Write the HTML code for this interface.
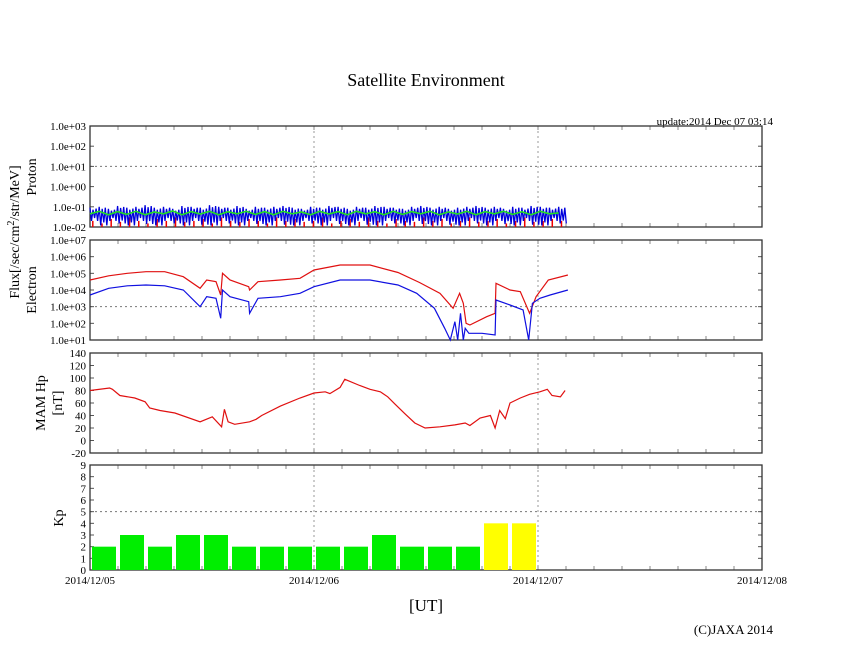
<!DOCTYPE html>
<html><head><meta charset="utf-8"><style>
body{margin:0;background:#fff}
svg text{font-family:"Liberation Serif",serif;fill:#000}
</style></head><body>
<svg id="c" width="846" height="655" viewBox="0 0 846 655"></svg>
<script>
// ---- data ----
const xTickLabels=["2014/12/05","2014/12/06","2014/12/07","2014/12/08"];
const protonTicks=["1.0e-02","1.0e-01","1.0e+00","1.0e+01","1.0e+02","1.0e+03"];
const electronTicks=["1.0e+01","1.0e+02","1.0e+03","1.0e+04","1.0e+05","1.0e+06","1.0e+07"];
const mamTicks=[-20,0,20,40,60,80,100,120,140];
const kpTicks=[0,1,2,3,4,5,6,7,8,9];
// hours since 2014/12/05 00:00 UT ; log10 flux
const elecRedT=[0,2,4,6,8,10,11.8,12.5,13.5,14.0,14.2,15,17,17.1,18,20.4,22.5,24,26.8,30,33,35.3,37.5,38.9,39.6,40.0,40.3,40.7,42.5,43.4,43.5,45,46.1,47.1,47.8,49.1,51.2];
const elecRedV=[4.6,4.85,5.0,5.1,5.1,4.8,4.1,4.6,4.5,3.7,5.0,4.6,4.2,4.0,4.5,4.6,4.7,5.2,5.5,5.5,5.05,4.45,3.8,2.9,3.8,3.2,2.0,1.9,2.4,2.6,4.4,4.0,3.9,2.6,3.6,4.6,4.9];
const elecBlueT=[0,2,4,6,8,10,11.8,12.5,13.5,14.0,14.2,15,17,17.1,18,20.4,22.5,24,26.8,30,33,35,36.9,38.0,38.6,39.1,39.4,39.7,40.0,40.2,40.6,42,43.4,43.5,45,46.4,47.0,47.4,48.2,49.3,51.2];
const elecBlueV=[3.7,4.1,4.25,4.3,4.25,4.0,3.0,3.6,3.5,2.3,4.0,3.6,3.3,2.6,3.5,3.6,3.8,4.2,4.6,4.6,4.3,3.8,2.9,1.7,1.0,2.1,1.0,2.6,1.0,1.7,1.4,1.4,1.3,3.4,3.1,2.8,1.0,3.2,3.5,3.7,4.0];
const mamT=[0,2.1,2.4,3.2,4.8,5.9,6.4,7.5,9.1,11.8,13.1,14.1,14.4,14.8,15.5,17.1,17.8,18.4,20.4,22.5,24,25.2,25.7,26.8,27.3,28.9,30,31.1,31.9,32.7,33.8,34.8,35.9,37.5,39.1,40.2,40.7,41.8,42.9,43.4,43.9,44.5,45,46.1,47.1,48.2,49,49.5,50.4,50.9];
const mamV=[80,84,82,72,68,62,52,48,44,30,38,22,50,30,26,30,34,40,55,68,76,78,75,85,98,88,82,78,70,58,42,28,20,22,25,28,24,36,40,20,48,35,60,68,74,78,82,72,70,80];
// proton per-hour (flux)
const protonBlueMax=[0.09,0.1,0.08,0.11,0.09,0.1,0.12,0.09,0.1,0.08,0.11,0.1,0.09,0.12,0.1,0.09,0.11,0.08,0.1,0.09,0.1,0.11,0.09,0.08,0.1,0.09,0.11,0.1,0.08,0.1,0.09,0.11,0.1,0.09,0.08,0.1,0.11,0.09,0.1,0.08,0.09,0.1,0.11,0.09,0.1,0.08,0.1,0.09,0.11,0.1,0.09,0.1];
const protonBlueMin=[0.02,0.012,0.02,0.015,0.012,0.02,0.014,0.012,0.02,0.015,0.012,0.02,0.013,0.012,0.02,0.015,0.012,0.02,0.014,0.012,0.02,0.013,0.012,0.02,0.015,0.012,0.02,0.014,0.012,0.02,0.013,0.012,0.02,0.015,0.012,0.02,0.014,0.012,0.02,0.013,0.012,0.02,0.015,0.012,0.02,0.014,0.012,0.02,0.013,0.012,0.02,0.015];
const protonGreen=[0.045,0.06,0.04,0.058,0.042,0.06,0.04,0.055,0.045,0.062,0.04,0.058,0.044,0.06,0.04,0.057,0.045,0.06,0.042,0.058,0.04,0.06,0.045,0.055,0.04,0.06,0.044,0.058,0.04,0.06,0.045,0.057,0.04,0.06,0.042,0.058,0.045,0.06,0.04,0.056,0.044,0.06,0.04,0.058,0.045,0.06,0.042,0.057,0.04,0.06,0.045,0.05];
const protonRed=[0.02,0.015,0.025,0.018,0.03,0.02,0.015,0.025,0.02,0.03,0.018,0.02,0.025,0.015,0.03,0.02,0.018,0.025,0.02,0.015,0.03,0.02,0.025,0.018,0.02,0.03,0.015,0.02,0.025,0.018,0.03,0.02,0.015,0.025,0.02,0.018,0.03,0.02,0.025,0.015,0.02,0.03,0.018,0.02,0.025,0.015,0.02,0.03,0.018,0.02,0.025,0.02];
const kpValues=[2,3,2,3,3,2,2,2,2,2,3,2,2,2,4,4];

// ---- layout ----
const NS="http://www.w3.org/2000/svg";
const svg=document.getElementById('c');
const X0=90,X1=762,HOURS=72,PEND=51.2;
const xs=h=>X0+h*(X1-X0)/HOURS;
function el(tag,attrs,parent){const e=document.createElementNS(NS,tag);for(const k in attrs)e.setAttribute(k,attrs[k]);(parent||svg).appendChild(e);return e;}
function txt(s,x,y,size,anchor,parent){const t=el('text',{x:x,y:y,'font-size':size,'text-anchor':anchor||'start'},parent);t.textContent=s;return t;}

function panel(name,top,bot,yTicksLabels,yMin,yMax,gridVals){
  const g=el('g',{});
  
  
  const ys=v=>bot-(v-yMin)/(yMax-yMin)*(bot-top);
  [24,48].forEach(h=>el('line',{x1:xs(h),x2:xs(h),y1:top,y2:bot,stroke:'#999','stroke-dasharray':'2,3'},g));
  gridVals.forEach(v=>el('line',{x1:X0,x2:X1,y1:ys(v),y2:ys(v),stroke:'#777','stroke-dasharray':'2,3'},g));
  for(let h=3;h<HOURS;h+=3){el('line',{x1:xs(h),x2:xs(h),y1:top,y2:top+4,stroke:'#888'},g);el('line',{x1:xs(h),x2:xs(h),y1:bot,y2:bot-4,stroke:'#888'},g);}
  yTicksLabels.forEach((lab,i)=>{const v=yMin+i*(yMax-yMin)/(yTicksLabels.length-1);const y=ys(v);
    el('line',{x1:X0,x2:X0+4,y1:y,y2:y,stroke:'#555'},g);el('line',{x1:X1,x2:X1-4,y1:y,y2:y,stroke:'#555'},g);
    const t=txt(String(lab),X0-4,y+4,11,'end',g);});
  el('rect',{x:X0,y:top,width:X1-X0,height:bot-top,fill:'none',stroke:'#333','stroke-width':1.3},g);
  return {g,ys};
}
function line(g,T,V,ys,color,name,w){
  let d='';T.forEach((t,i)=>{d+=(i?'L':'M')+xs(t).toFixed(1)+','+ys(V[i]).toFixed(1);});
  const p=el('path',{d:d,fill:'none',stroke:color,'stroke-width':w||1.2},g);
  
  
}

const tt=txt("Satellite Environment",426,86,18,'middle');
const up=txt("update:2014 Dec 07 03:14",773,125,11,'end');

// proton
const P=panel('proton',126,227,protonTicks,-2,3,[1]);
const lg=v=>Math.log10(v);
const pstep=PEND/protonBlueMax.length;
protonRed.forEach((v,i)=>{const l=el('line',{x1:xs(i*pstep+0.3),x2:xs(i*pstep+0.3),y1:227,y2:P.ys(lg(v)),stroke:'#e00','stroke-width':1.5},P.g);
 
 });
{let d='';protonBlueMax.forEach((v,i)=>{const x0=xs(i*pstep),x1=xs(i*pstep+pstep/2);
   d+=(i?'L':'M')+x0.toFixed(1)+','+P.ys(lg(v)).toFixed(1)+'L'+(x0+1.5).toFixed(1)+','+P.ys(lg(protonBlueMin[i])).toFixed(1)
     +'L'+(x0+3).toFixed(1)+','+P.ys(lg(v*0.8)).toFixed(1)+'L'+x1.toFixed(1)+','+P.ys(lg(protonBlueMin[i]*1.4)).toFixed(1)
     +'L'+(x1+1.5).toFixed(1)+','+P.ys(lg(v*0.9)).toFixed(1)+'L'+(x1+3).toFixed(1)+','+P.ys(lg(protonBlueMin[i])).toFixed(1);});
 const b=el('path',{d:d,fill:'none',stroke:'#0000dd','stroke-width':1.3},P.g);
 
 }
line(P.g,protonGreen.map((v,i)=>i*pstep),protonGreen.map(lg),P.ys,'#22dd22','proton-green-line',1.6);

// electron
const E=panel('electron',240,340,electronTicks,1,7,[3]);
line(E.g,elecRedT,elecRedV,E.ys,'#e01010','electron-red-line');
line(E.g,elecBlueT,elecBlueV,E.ys,'#1010e0','electron-blue-line');

// MAM
const M=panel('mam-hp',353,453,mamTicks,-20,140,[]);
line(M.g,mamT,mamV,M.ys,'#e01010','mam-hp-line');

// Kp
const K=panel('kp',465,570,kpTicks,0,9,[5]);
kpValues.forEach((v,i)=>{const r=el('rect',{x:xs(i*3)+2,y:K.ys(v),width:xs(3)-xs(0)-4,height:570-K.ys(v),fill:v>=4?'#ffff00':'#00ee00'},K.g);
 
 });

xTickLabels.forEach((s,i)=>{const t=txt(s,xs(i*24),584,11,'middle');});
const ut=txt("[UT]",426,611,17,'middle');
const cp=txt("(C)JAXA 2014",773,634,13,'end');

function vt(s,x,y,size,name){const t=txt(s,x,y,size,'middle');t.setAttribute('transform','rotate(-90 '+x+' '+y+')');return t;}
const fl=vt("",19,232,14,'flux-axis-title');
fl.innerHTML='Flux[/sec/cm<tspan dy="-5" font-size="10">2</tspan><tspan dy="5">/str/MeV]</tspan>';
vt("Proton",36,177,14,'proton-axis-title');
vt("Electron",36,290,14,'electron-axis-title');
vt("MAM Hp",45,403,14,'mam-axis-title');
vt("[nT]",62,403,14,'mam-unit-title');
vt("Kp",63,518,14,'kp-axis-title');
</script>
</body></html>
